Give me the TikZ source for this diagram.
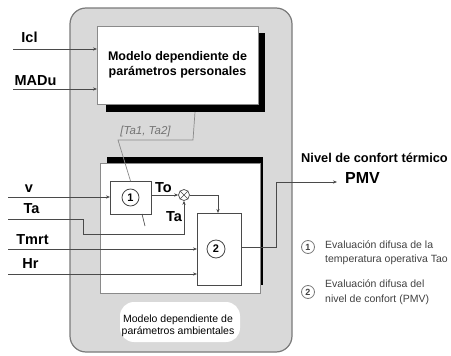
\documentclass[tikz,border=0pt]{standalone}
\usepackage{fontspec}
\setmainfont{Liberation Sans}
\usetikzlibrary{arrows.meta}
\definecolor{bggray}{HTML}{D9D9D9}
\definecolor{edgegray}{HTML}{7A7A7A}
\definecolor{linegray}{HTML}{4A4A4A}
\definecolor{boxedge}{HTML}{8A8A8A}
\definecolor{legtext}{HTML}{404040}
\begin{document}
\begin{tikzpicture}[x=1pt,y=-1pt,
  conn/.style={draw=linegray, line width=0.7pt},
  arr/.style={conn, -{Stealth[length=4pt,width=3.2pt]}},
  box/.style={draw=boxedge, fill=white, line width=0.8pt, inner sep=0pt, outer sep=0pt},
  inlabel/.style={font=\fontsize{14.5}{16}\selectfont\bfseries, inner sep=0pt, anchor=base},
  num/.style={circle, draw=linegray, line width=0.8pt, minimum size=17pt, inner sep=0pt, font=\fontsize{11}{12}\selectfont\bfseries},
  legnum/.style={circle, draw=legtext!70, line width=0.8pt, minimum size=13pt, inner sep=0pt, text=legtext, font=\fontsize{9}{10}\selectfont\bfseries},
  legline/.style={font=\fontsize{10.5}{12}\selectfont, text=legtext, inner sep=0pt, anchor=base west},
  shadow/.style={fill=black, draw=none}
]
\useasboundingbox (0,0) rectangle (451,356);
% background panel
\draw[fill=bggray, draw=edgegray, line width=1.2pt, rounded corners=16pt] (70,8) rectangle (292,352);

% top box (personal parameters)
\fill[shadow] (106,33) rectangle (265,112);
\node[box, minimum width=161pt, minimum height=78pt, anchor=north west] (top) at (97,26) {};
\node[align=center, font=\fontsize{12.5}{15}\selectfont\bfseries, inner sep=0pt] (toptext) at (177.5,64.5) {Modelo dependiente de\\parámetros personales};

% lower box (environmental parameters)
\fill[shadow] (107,157) rectangle (263,285);
\node[box, minimum width=160pt, minimum height=130pt, anchor=north west] (env) at (100,163) {};

% inner blocks
\node[box, draw=linegray, minimum width=41pt, minimum height=33pt, anchor=north west] (box1) at (110,181) {};
\node[num] (n1) at (box1.center) {1};
\node[box, draw=linegray, minimum width=44pt, minimum height=72pt, anchor=north west] (box2) at (197,213) {};
\node[num, minimum size=18pt] (n2) at (216,249) {2};
\node[circle, draw=linegray, line width=0.7pt, minimum size=11pt, inner sep=0pt, fill=white] (sum) at (184,195) {};
\draw[linegray, line width=0.6pt] (sum.north west) -- (sum.south east) (sum.north east) -- (sum.south west);

% bottom label
\node[fill=white, rounded corners=14pt, minimum width=120pt, minimum height=40pt, inner sep=0pt] (envlbl) at (180,322) {};
\node[align=center, font=\fontsize{10.5}{12.5}\selectfont, inner sep=0pt] (envtext) at (178,326) {Modelo dependiente de\\parámetros ambientales};

% input labels
\node[inlabel] (lIcl) at (29.5,42) {Icl};
\node[inlabel] (lMADu) at (35.5,85) {MADu};
\node[inlabel] (lv) at (29,193) {v};
\node[inlabel] (lTa) at (31.5,213) {Ta};
\node[inlabel] (lTmrt) at (32.5,244) {Tmrt};
\node[inlabel] (lHr) at (30.5,268) {Hr};
\node[inlabel] (lTo) at (163.5,192) {To};
\node[inlabel] (lTa2) at (174,222) {Ta};

% input coordinates
\coordinate (sIcl) at (13,49);
\coordinate (sMADu) at (13,89);
\coordinate (sv) at (8,197);
\coordinate (sTa) at (8,219);
\coordinate (kTa1) at (83,219);
\coordinate (kTa2) at (83,234);
\coordinate (kTa3) at (184,234);
\coordinate (sTmrt) at (8,249);
\coordinate (sHr) at (8,274);

\draw[arr] (sIcl) -- (sIcl -| top.west);
\draw[arr] (sMADu) -- (sMADu -| top.west);
\draw[arr] (sv) -- (sv -| box1.west);
\draw[arr] (sTa) -- (kTa1) -- (kTa2) -- (kTa3) -- (sum.south);
\draw[arr] (sTmrt) -- (sTmrt -| box2.west);
\draw[arr] (sHr) -- (sHr -| box2.west);

% box1 -> sum -> box2
\draw[arr] (sum -| box1.east) -- (sum.west);
\coordinate (kSum) at (218,195);
\draw[arr] (sum.east) -- (kSum) -- (kSum |- box2.north);

% [Ta1, Ta2] link
\coordinate (kL0) at (195,112);
\coordinate (kL1) at (193,140);
\coordinate (kL2) at (118,140);
\draw[conn, draw=boxedge] (kL0) -- (kL1) -- (kL2) -- (box1.north);
\node[font=\fontsize{11.5}{13}\selectfont\itshape, text=black!55, inner sep=0pt, anchor=base] (tatext) at (145.5,135) {[Ta1, Ta2]};

% small tick under box1
\coordinate (tk0) at (142,214);
\coordinate (tk1) at (145,226);
\draw[conn] (tk0) -- (tk1);

% output
\coordinate (kO1) at (276,247);
\coordinate (kO2) at (276,182);
\coordinate (kO3) at (337,182);
\draw[arr] (kO1 -| box2.east) -- (kO1) -- (kO2) -- (kO3);
\node[font=\fontsize{12.8}{15}\selectfont\bfseries, inner sep=0pt, anchor=base] (nivel) at (374.5,162) {Nivel de confort térmico};
\node[font=\fontsize{16}{18}\selectfont\bfseries, inner sep=0pt, anchor=base] (pmv) at (362.5,183) {PMV};

% legend
\node[legnum] (L1) at (308,247) {1};
\node[legline] (L1a) at (325,248) {Evaluación difusa de la};
\node[legline] (L1b) at (325,262.5) {temperatura operativa Tao};
\node[legnum] (L2) at (308,292) {2};
\node[legline] (L2a) at (325,287) {Evaluación difusa del};
\node[legline] (L2b) at (325,302) {nivel de confort (PMV)};
\end{tikzpicture}
\end{document}
